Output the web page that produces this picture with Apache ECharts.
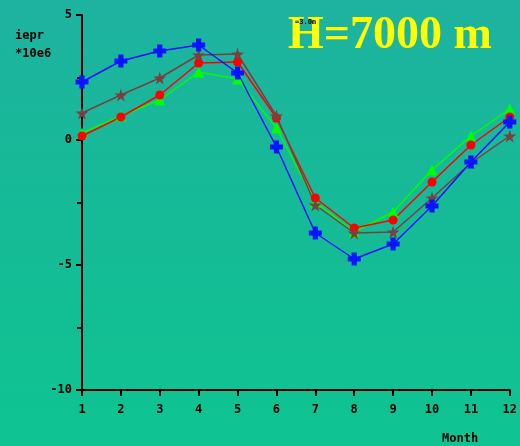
<!DOCTYPE html>
<html><head><meta charset="utf-8">
<script src="https://cdn.jsdelivr.net/npm/echarts@6/dist/echarts.min.js"></script>
<style>html,body{margin:0;padding:0;}#c{width:520px;height:446px;}</style>
</head><body><div id="c"></div>
<script>
const months = ['1','2','3','4','5','6','7','8','9','10','11','12'];
const blueVals  = [2.32, 3.16, 3.56, 3.80, 2.68, -0.28, -3.72, -4.76, -4.16, -2.64, -0.88, 0.72];
const redVals   = [0.16, 0.92, 1.80, 3.08, 3.12, 0.88, -2.32, -3.52, -3.20, -1.68, -0.20, 0.92];
const greenVals = [0.28, 0.96, 1.60, 2.72, 2.44, 0.48, -2.48, -3.68, -2.88, -1.20, 0.16, 1.24];
const brownVals = [1.08, 1.80, 2.48, 3.40, 3.44, 0.96, -2.60, -3.72, -3.68, -2.32, -0.92, 0.16];
const yTicks = [5, 0, -5, -10];

const crossPath = 'path://M3,0H7V3H10V7H7V10H3V7H0V3H3Z';
const starPath = 'path://M50,0L61,35H98L68,57L79,91L50,70L21,91L32,57L2,35H39Z';

const chart = echarts.init(document.getElementById('c'));
const axisFont = {fontFamily:'DejaVu Sans Mono', fontWeight:'bold', fontSize:12, color:'#000'};
function ser(name, data, color, symbol, size){
  return {name, type:'line', data, symbol, symbolSize:size,
    lineStyle:{color, width:1.5}, itemStyle:{color}, z: 3};
}
chart.setOption({
  backgroundColor: {type:'linear', x:0, y:0, x2:0, y2:1, colorStops:[
    {offset:0, color:'#1eb3a0'}, {offset:0.5, color:'#15bb96'}, {offset:1, color:'#0fc492'}]},
  animation:false,
  grid:{left:82, top:15, right:10, bottom:56},
  title:[
    {text:'H=7000 m', left:283, top:8, textStyle:{fontFamily:'Liberation Serif', fontWeight:'bold', fontSize:46, color:'#ffff00'}},
    {text:'iepr\n*10e6', left:10, top:22, textStyle:{fontFamily:'DejaVu Sans Mono', fontWeight:'bold', fontSize:12, lineHeight:18, color:'#000'}},
    {text:'Month', left:437, top:428, textStyle:{fontFamily:'DejaVu Sans Mono', fontWeight:'bold', fontSize:12, color:'#000'}},
    {text:'=3.0m', left:290, top:14, textStyle:{fontFamily:'DejaVu Sans Mono', fontWeight:'bold', fontSize:7, color:'#000'}}
  ],
  xAxis:{type:'category', data:months, boundaryGap:false,
    axisLine:{onZero:false, lineStyle:{color:'#000', width:2}},
    axisTick:{show:true, length:6, lineStyle:{color:'#000', width:2}},
    axisLabel:Object.assign({margin:14}, axisFont),
    splitLine:{show:false}},
  yAxis:{type:'value', min:-10, max:5, interval:5,
    axisLine:{show:true, onZero:false, lineStyle:{color:'#000', width:2}},
    axisTick:{show:true, length:6, lineStyle:{color:'#000', width:2}},
    minorTick:{show:true, splitNumber:2, length:5, lineStyle:{color:'#000', width:2}},
    axisLabel:Object.assign({margin:10, formatter:v=>yTicks.includes(v)?String(v):''}, axisFont),
    splitLine:{show:false}},
  series:[
    ser('green', greenVals, '#00ff00', 'triangle', 11),
    ser('red', redVals, '#ff0000', 'circle', 9),
    ser('brown', brownVals, '#7a4040', starPath, 13),
    ser('blue', blueVals, '#0a14ff', crossPath, 13)
  ]
});
</script></body></html>
